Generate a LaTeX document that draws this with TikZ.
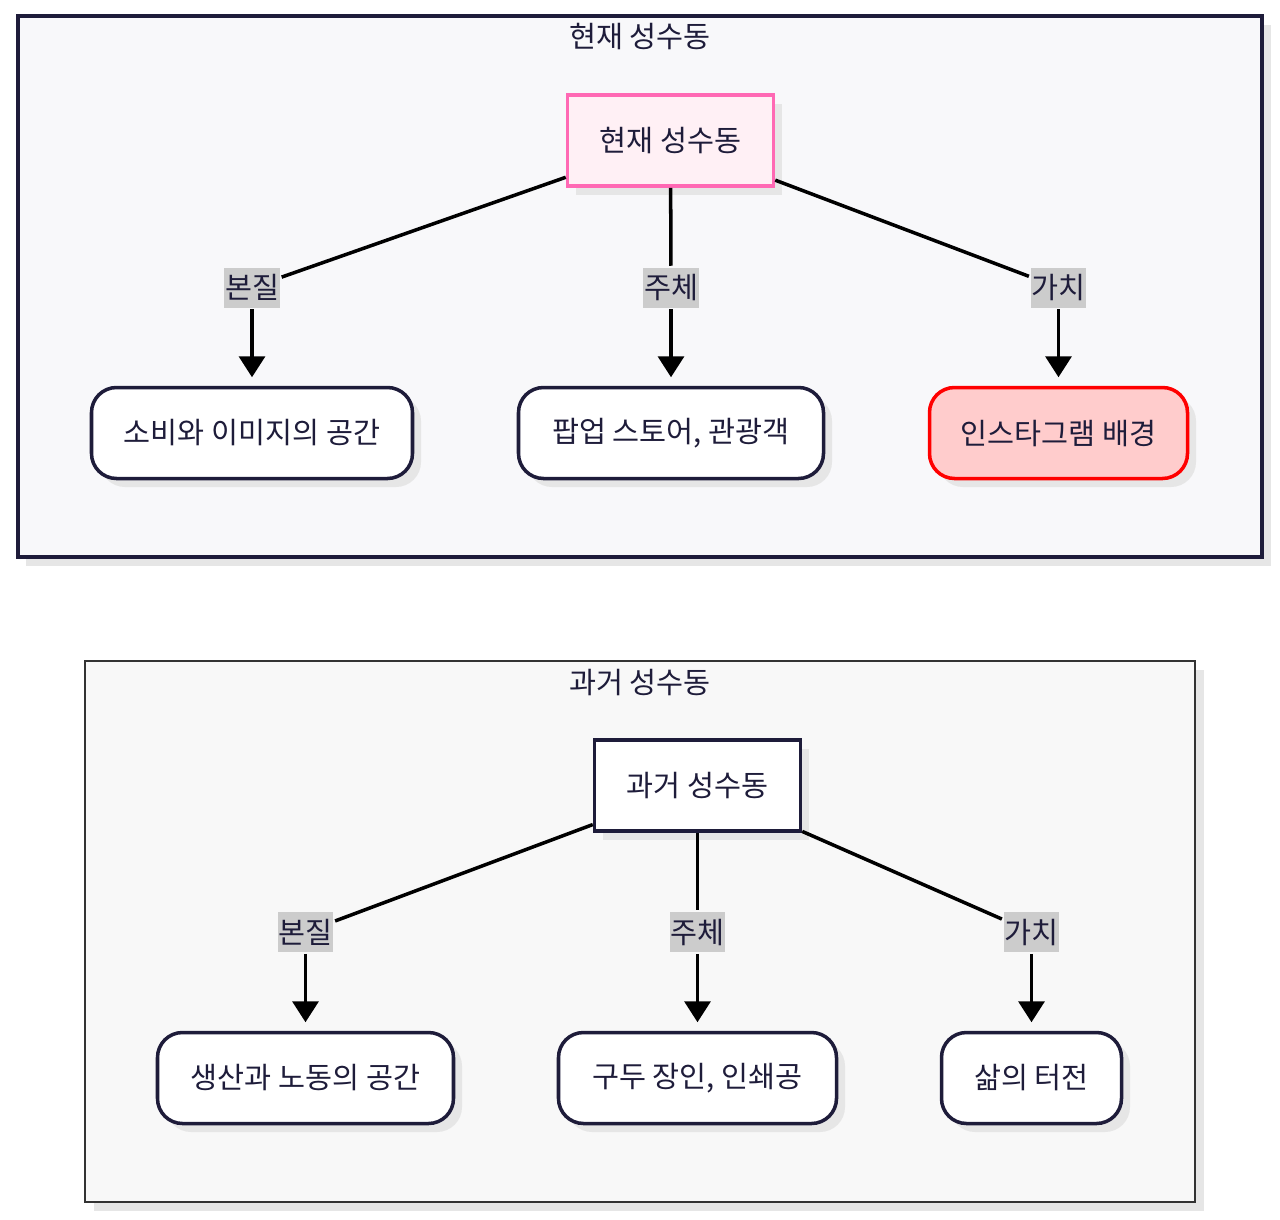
\documentclass[tikz,border=0pt]{standalone}
\usepackage{fontspec}
\setmainfont{Noto Sans CJK KR}
\usetikzlibrary{shadows, arrows.meta}
\definecolor{ink}{HTML}{1E1C3A}
\definecolor{pinkfill}{HTML}{FFF0F5}
\definecolor{pinkline}{HTML}{FF69B4}
\definecolor{redfill}{HTML}{FFCCCC}
\definecolor{lblgray}{HTML}{CCCCCC}
\definecolor{clusterbg}{HTML}{F8F8FA}
\definecolor{pastbg}{HTML}{F8F8F8}
\definecolor{shadowgray}{HTML}{E6E6E6}
\tikzstyle{shade}=[drop shadow={shadow xshift=0.17cm, shadow yshift=-0.17cm, fill=shadowgray, opacity=1}]
\tikzstyle{topbox}=[shade, draw=ink, fill=white, minimum width=4.12cm, minimum height=1.82cm, inner sep=0]
\tikzstyle{leafbox}=[shade, draw=ink, fill=white, rounded corners=0.5cm, minimum height=1.82cm, inner sep=0]
\tikzstyle{edgelbl}=[fill=lblgray, inner xsep=0.5pt, inner ysep=0, minimum height=0.8cm]
\tikzstyle{myarrow}=[-{Triangle[length=0.42cm, width=0.52cm]}, shorten >=0.17cm]

\begin{document}
\begin{tikzpicture}[x=2cm, y=-2cm, font=\fontsize{16.7}{19}\selectfont, text=ink, line width=2pt]
    \useasboundingbox (0,0) rectangle (12.8,12.19) ;
    % present
    \draw[shade, draw=ink, fill=clusterbg] (0.18,0.16) rectangle (12.62,5.57) ;
    \node (nowtitle) at (6.40,0.37) {현재 성수동} ;
    \node[topbox, draw=pinkline, fill=pinkfill] (now) at (6.705,1.405) {현재 성수동} ;
    \node[leafbox, minimum width=6.42cm] (now1) at (2.52,4.33) {소비와 이미지의 공간} ;
    \node[leafbox, minimum width=6.10cm] (now2) at (6.71,4.33) {팝업 스토어, 관광객} ;
    \node[leafbox, draw=red, fill=redfill, minimum width=5.16cm] (now3) at (10.585,4.33) {인스타그램 배경} ;
    \node[edgelbl] (nowl1) at (2.52,2.875) {본질} ;
    \node[edgelbl] (nowl2) at (6.71,2.875) {주체} ;
    \node[edgelbl] (nowl3) at (10.585,2.875) {가치} ;
    \draw (now) -- (nowl1) ;
    \draw (now) -- (nowl2) ;
    \draw (now) -- (nowl3) ;
    \draw[myarrow] (nowl1) -- (now1) ;
    \draw[myarrow] (nowl2) -- (now2) ;
    \draw[myarrow] (nowl3) -- (now3) ;
    % past
    \draw[shade, draw=black!80, fill=pastbg, line width=1pt] (0.85,6.61) rectangle (11.95,12.02) ;
    \node (pasttitle) at (6.40,6.82) {과거 성수동} ;
    \node[topbox] (past) at (6.975,7.855) {과거 성수동} ;
    \node[leafbox, minimum width=5.92cm] (past1) at (3.055,10.78) {생산과 노동의 공간} ;
    \node[leafbox, minimum width=5.56cm] (past2) at (6.975,10.78) {구두 장인, 인쇄공} ;
    \node[leafbox, minimum width=3.60cm] (past3) at (10.315,10.78) {삶의 터전} ;
    \node[edgelbl] (pastl1) at (3.055,9.32) {본질} ;
    \node[edgelbl] (pastl2) at (6.975,9.32) {주체} ;
    \node[edgelbl] (pastl3) at (10.315,9.32) {가치} ;
    \draw (past) -- (pastl1) ;
    \draw (past) -- (pastl2) ;
    \draw (past) -- (pastl3) ;
    \draw[myarrow] (pastl1) -- (past1) ;
    \draw[myarrow] (pastl2) -- (past2) ;
    \draw[myarrow] (pastl3) -- (past3) ;
\end{tikzpicture}
\end{document}
